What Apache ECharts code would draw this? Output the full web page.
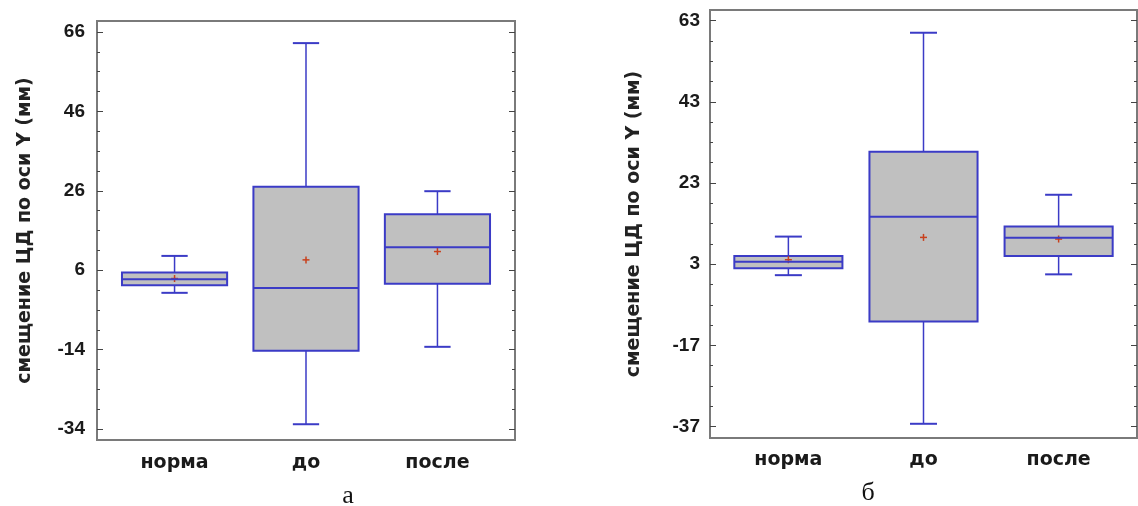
<!DOCTYPE html>
<html>
<head>
<meta charset="utf-8">
<script src="https://cdn.jsdelivr.net/npm/echarts/dist/echarts.min.js"></script>
<style>
  html, body { margin: 0; padding: 0; background: #fff; }
  #chart { width: 1138px; height: 506px; }
</style>
</head>
<body>
<div id="chart"></div>
<script>
// категории и подпись оси
var categories = ['норма', 'до', 'после'];
var yTitle = 'смещение ЦД по оси Y (мм)';

// график а
var aLow    = [0.3, -32.8, -13.3];
var aQ1     = [2.2, -14.3, 2.6];
var aMedian = [3.7, 1.5, 11.8];
var aQ3     = [5.4, 27.0, 20.1];
var aHigh   = [9.6, 63.2, 25.9];
var aMean   = [3.9, 8.6, 10.7];
var aTicks  = [-34, -14, 6, 26, 46, 66];

// график б
var bLow    = [0.3, -36.3, 0.5];
var bQ1     = [2.0, -11.1, 5.0];
var bMedian = [3.6, 14.7, 9.5];
var bQ3     = [5.0, 30.7, 12.3];
var bHigh   = [9.8, 60.0, 20.1];
var bMean   = [4.1, 9.6, 9.2];
var bTicks  = [-37, -17, 3, 23, 43, 63];

var lineColor = '#3b3bc6';
var boxFill = '#c0c0c0';
var meanColor = '#c8401c';

function minorOf(ticks, min, max) {
	var out = [];
	for (var v = ticks[0] - 15; v < max; v += 5) {
		if (v > min && ticks.indexOf(v) < 0) out.push(v);
	}
	return out;
}

function yAxes(grid, min, max, ticks, labelMargin, nameGap) {
	var minors = minorOf(ticks, min, max);
	var base = {
		type: 'value', gridIndex: grid, min: min, max: max,
		axisLine: { show: false },
		splitLine: { show: false },
		axisLabel: { show: false }
	};
	return [
		Object.assign({}, base, {
			position: 'left',
			name: yTitle,
			nameLocation: 'middle',
			nameGap: nameGap,
			nameRotate: 90,
			nameTextStyle: { fontFamily: 'DejaVu Sans', fontWeight: 'bold', fontSize: 19, color: '#222' },
			axisTick: { show: true, inside: true, length: 6, customValues: ticks, lineStyle: { color: '#444' } },
			axisLabel: { show: true, customValues: ticks, margin: labelMargin, fontFamily: 'Liberation Sans', fontWeight: 'bold', fontSize: 19, color: '#1a1a1a' }
		}),
		Object.assign({}, base, {
			position: 'left',
			axisTick: { show: true, inside: true, length: 3, customValues: minors, lineStyle: { color: '#444' } }
		}),
		Object.assign({}, base, {
			position: 'right',
			axisTick: { show: true, inside: true, length: 6, customValues: ticks, lineStyle: { color: '#444' } }
		}),
		Object.assign({}, base, {
			position: 'right',
			axisTick: { show: true, inside: true, length: 3, customValues: minors, lineStyle: { color: '#444' } }
		})
	];
}

function xAxis(grid, min, max, margin) {
	return {
		type: 'value', gridIndex: grid, min: min, max: max,
		axisLine: { show: false },
		axisTick: { show: false },
		splitLine: { show: false },
		axisLabel: {
			customValues: [1, 2, 3],
			margin: margin,
			fontFamily: 'DejaVu Sans', fontWeight: 'bold', fontSize: 19, color: '#1a1a1a',
			formatter: function (v) { return categories[Math.round(v) - 1]; }
		}
	};
}

function renderBox(params, api) {
	var x = api.value(0);
	var pLow = api.coord([x, api.value(1)]);
	var pQ1 = api.coord([x, api.value(2)]);
	var pMed = api.coord([x, api.value(3)]);
	var pQ3 = api.coord([x, api.value(4)]);
	var pHigh = api.coord([x, api.value(5)]);
	var pMean = api.coord([x, api.value(6)]);
	var cx = pMed[0];
	var hw = api.size([0.8, 0])[0] / 2;
	var cw = api.size([0.2, 0])[0] / 2;
	var thin = { stroke: lineColor, lineWidth: 1.5 };
	var thick = { stroke: lineColor, lineWidth: 2 };
	return {
		type: 'group',
		children: [
			{ type: 'line', shape: { x1: cx, y1: pLow[1], x2: cx, y2: pQ1[1] }, style: thin },
			{ type: 'line', shape: { x1: cx, y1: pQ3[1], x2: cx, y2: pHigh[1] }, style: thin },
			{ type: 'line', shape: { x1: cx - cw, y1: pLow[1], x2: cx + cw, y2: pLow[1] }, style: thick },
			{ type: 'line', shape: { x1: cx - cw, y1: pHigh[1], x2: cx + cw, y2: pHigh[1] }, style: thick },
			{ type: 'rect', shape: { x: cx - hw, y: pQ3[1], width: hw * 2, height: pQ1[1] - pQ3[1] },
				style: { fill: boxFill, stroke: lineColor, lineWidth: 2 } },
			{ type: 'line', shape: { x1: cx - 3.5, y1: pMean[1], x2: cx + 3.5, y2: pMean[1] }, style: { stroke: meanColor, lineWidth: 1.5 } },
			{ type: 'line', shape: { x1: cx, y1: pMean[1] - 3.5, x2: cx, y2: pMean[1] + 3.5 }, style: { stroke: meanColor, lineWidth: 1.5 } },
			{ type: 'line', shape: { x1: cx - hw, y1: pMed[1], x2: cx + hw, y2: pMed[1] }, style: thick }
		]
	};
}

function boxData(low, q1, med, q3, high, mean) {
	return categories.map(function (c, i) {
		return [i + 1, low[i], q1[i], med[i], q3[i], high[i], mean[i]];
	});
}

var chart = echarts.init(document.getElementById('chart'));
chart.setOption({
	animation: false,
	backgroundColor: '#ffffff',
	grid: [
		{ left: 97, top: 21, width: 418, height: 419, show: true, borderColor: '#7a7a7a', borderWidth: 2 },
		{ left: 710, top: 10, width: 427, height: 428, show: true, borderColor: '#7a7a7a', borderWidth: 2 }
	],
	xAxis: [xAxis(0, 0.41, 3.59, 14), xAxis(1, 0.42, 3.58, 13)],
	yAxis: yAxes(0, -36.77, 68.77, aTicks, 12, 62).concat(yAxes(1, -39.8, 65.6, bTicks, 10, 66)),
	series: [
		{ type: 'custom', xAxisIndex: 0, yAxisIndex: 0, renderItem: renderBox,
			data: boxData(aLow, aQ1, aMedian, aQ3, aHigh, aMean) },
		{ type: 'custom', xAxisIndex: 1, yAxisIndex: 4, renderItem: renderBox,
			data: boxData(bLow, bQ1, bMedian, bQ3, bHigh, bMean) }
	],
	graphic: [
		{ type: 'text', x: 348, y: 496, style: { text: 'а', fontFamily: 'Liberation Serif', fontSize: 26, fill: '#111', textAlign: 'center', textVerticalAlign: 'middle' } },
		{ type: 'text', x: 868, y: 493, style: { text: 'б', fontFamily: 'Liberation Serif', fontSize: 26, fill: '#111', textAlign: 'center', textVerticalAlign: 'middle' } }
	]
});
</script>
</body>
</html>
